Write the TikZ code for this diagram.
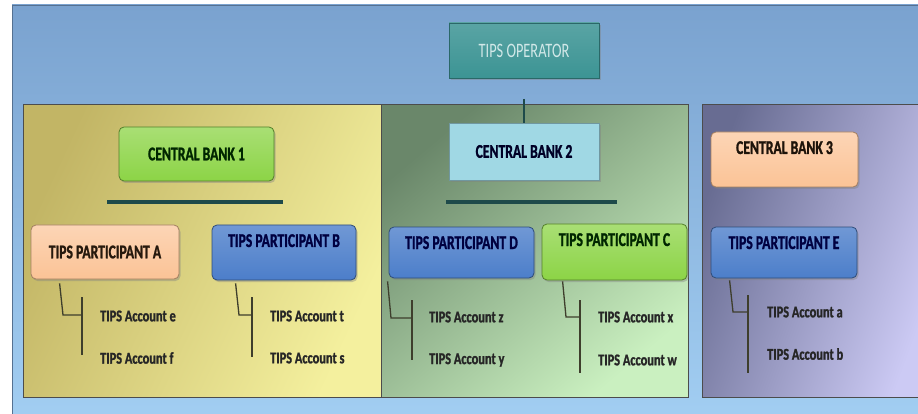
\documentclass[tikz,border=0pt]{standalone}
\usepackage{fontspec}
\usetikzlibrary{shadows}
\newfontfamily\tipsfont[FakeStretch=0.7, BoldFeatures={FakeBold=1.2}]{Carlito}
\newfontfamily\acctfont[FakeStretch=0.75, BoldFeatures={FakeBold=1.2}]{Carlito}

\definecolor{bgtop}{HTML}{7AA2CF}
\definecolor{bgbot}{HTML}{A2CEF2}
\definecolor{yelA}{HTML}{C2B565}
\definecolor{yelB}{HTML}{F4F09E}
\definecolor{grnA}{HTML}{6A876A}
\definecolor{grnB}{HTML}{CAF0C0}
\definecolor{purA}{HTML}{686C92}
\definecolor{purB}{HTML}{CCCAF4}
\definecolor{opteal}{HTML}{3C9494}
\definecolor{limegrn}{HTML}{8CD446}
\definecolor{paleblue}{HTML}{A0D8E4}
\definecolor{peach}{HTML}{FBC396}
\definecolor{midblue}{HTML}{4C7ECA}
\definecolor{barteal}{HTML}{1E4A4A}
\definecolor{treeline}{HTML}{3E3E2C}

\begin{document}
\begin{tikzpicture}[x=1pt,y=-1pt,
	box/.style={draw=#1, line width=0.8pt, inner xsep=2pt, inner ysep=0pt,
		font=\tipsfont\bfseries\fontsize{19.5}{19.5}\selectfont,
		drop shadow={shadow xshift=1.5pt,shadow yshift=-2pt,opacity=0.4}},
	toplabel/.style={text height=22pt, text depth=#1},
	acct/.style={anchor=west, inner sep=0pt, text=black!85,
		font=\acctfont\bfseries\fontsize{16.5}{16.5}\selectfont},
	panel/.style={draw=black!70, line width=1pt},
	cbbar/.style={draw=barteal, line width=3.5pt},
	tree/.style={draw=treeline, line width=1.3pt}]
	
	\useasboundingbox (0,0) rectangle (918,414);
	\fill[white] (0,0) rectangle (918,414);
	\shade[top color=bgtop, bottom color=bgbot, draw=bgtop!70!black] (12,5) rectangle (925,420);
	
	% panels
	\shade[panel, top color=yelA, bottom color=yelB, shading angle=65] (23,105) rectangle (381,397);
	\shade[panel, top color=grnA, bottom color=grnB, shading angle=40] (381,105) rectangle (688,397);
	\shade[panel, top color=purA, bottom color=purB, shading angle=70] (702,105) rectangle (930,397);
	
	% operator and central banks
	\node[box=opteal!70!black, top color=opteal!85!white, bottom color=opteal, minimum width=150pt, minimum height=55pt,
		font=\tipsfont\fontsize{20.5}{20.5}\selectfont, text=white!82!teal] (op) at (524,50.5) {TIPS OPERATOR};
	\node[box=limegrn!60!black, top color=limegrn!75!white, bottom color=limegrn, rounded corners=5pt,
		minimum width=155pt, minimum height=54pt, text=black!85!green] (cb1) at (196.5,154) {CENTRAL BANK 1};
	\node[box=paleblue!70!black, fill=paleblue, minimum width=150pt, minimum height=57pt,
		text=black!85!blue] (cb2) at (524,151.5) {CENTRAL BANK 2};
	\node[box=peach!65!black, top color=peach!70!white, bottom color=peach, rounded corners=5pt,
		minimum width=147pt, toplabel=33pt, text=black!85!brown] (cb3) at (784.5,159.5) {CENTRAL BANK 3};
	
	\coordinate (opend) at (524,99);
	\draw[barteal, line width=2pt] (opend) -- (cb2.north);
	\draw[cbbar] (107,202) -- (283,202);
	\draw[cbbar] (446,202) -- (617,202);
	
	% participants
	\node[box=peach!65!black, top color=peach!70!white, bottom color=peach, rounded corners=5pt,
		minimum width=148pt, minimum height=54pt, text=black!80!brown] (pa) at (105,252) {TIPS PARTICIPANT A};
	\node[box=midblue!60!black, top color=midblue!80!white, bottom color=midblue, rounded corners=5pt,
		minimum width=144pt, toplabel=33pt, text=blue!25!black] (pb) at (284,252.5) {TIPS PARTICIPANT B};
	\node[box=midblue!60!black, top color=midblue!80!white, bottom color=midblue, rounded corners=5pt,
		minimum width=145pt, toplabel=29pt, text=blue!25!black] (pd) at (461.5,252.5) {TIPS PARTICIPANT D};
	\node[box=limegrn!60!black, top color=limegrn!75!white, bottom color=limegrn, rounded corners=5pt,
		minimum width=145pt, toplabel=34pt, text=black!85!green] (pc) at (614.5,252) {TIPS PARTICIPANT C};
	\node[box=midblue!60!black, top color=midblue!80!white, bottom color=midblue, rounded corners=5pt,
		minimum width=146pt, toplabel=29pt, text=blue!25!black] (pe) at (784,252.5) {TIPS PARTICIPANT E};
	
	% accounts
	\node[acct] (ae) at (100,316) {TIPS Account e};
	\node[acct] (af) at (100,358) {TIPS Account f};
	\node[acct] (at) at (270,316) {TIPS Account t};
	\node[acct] (as) at (270,358) {TIPS Account s};
	\node[acct] (az) at (429,317) {TIPS Account z};
	\node[acct] (ay) at (429,360) {TIPS Account y};
	\node[acct] (ax) at (598,317) {TIPS Account x};
	\node[acct] (aw) at (598,360) {TIPS Account w};
	\node[acct] (aa) at (767,312) {TIPS Account a};
	\node[acct] (ab) at (767,354) {TIPS Account b};
	
	% account trees
	\coordinate (ta) at (82,297); \coordinate (ba) at (82,355);
	\draw[tree] ([xshift=29pt,yshift=-4pt]pa.south west) -- (63,315) -- (82,315);
	\draw[tree] (ta) -- (ba);
	\coordinate (tb) at (252,297); \coordinate (bb) at (252,357);
	\draw[tree] ([xshift=24pt,yshift=-3pt]pb.south west) -- (239,315) -- (252,315);
	\draw[tree] (tb) -- (bb);
	\coordinate (td) at (412,300); \coordinate (bd) at (412,360);
	\draw[tree] ([xshift=-1pt,yshift=-3pt]pd.south west) -- (391,318) -- (412,318);
	\draw[tree] (td) -- (bd);
	\coordinate (tc) at (580,300); \coordinate (bc) at (580,373);
	\draw[tree] ([xshift=21pt,yshift=-1pt]pc.south west) -- (566,317) -- (580,317);
	\draw[tree] (tc) -- (bc);
	\coordinate (te) at (748,295); \coordinate (be) at (748,373);
	\draw[tree] ([xshift=19pt,yshift=-2pt]pe.south west) -- (733,312) -- (748,312);
	\draw[tree] (te) -- (be);
	
\end{tikzpicture}
\end{document}
